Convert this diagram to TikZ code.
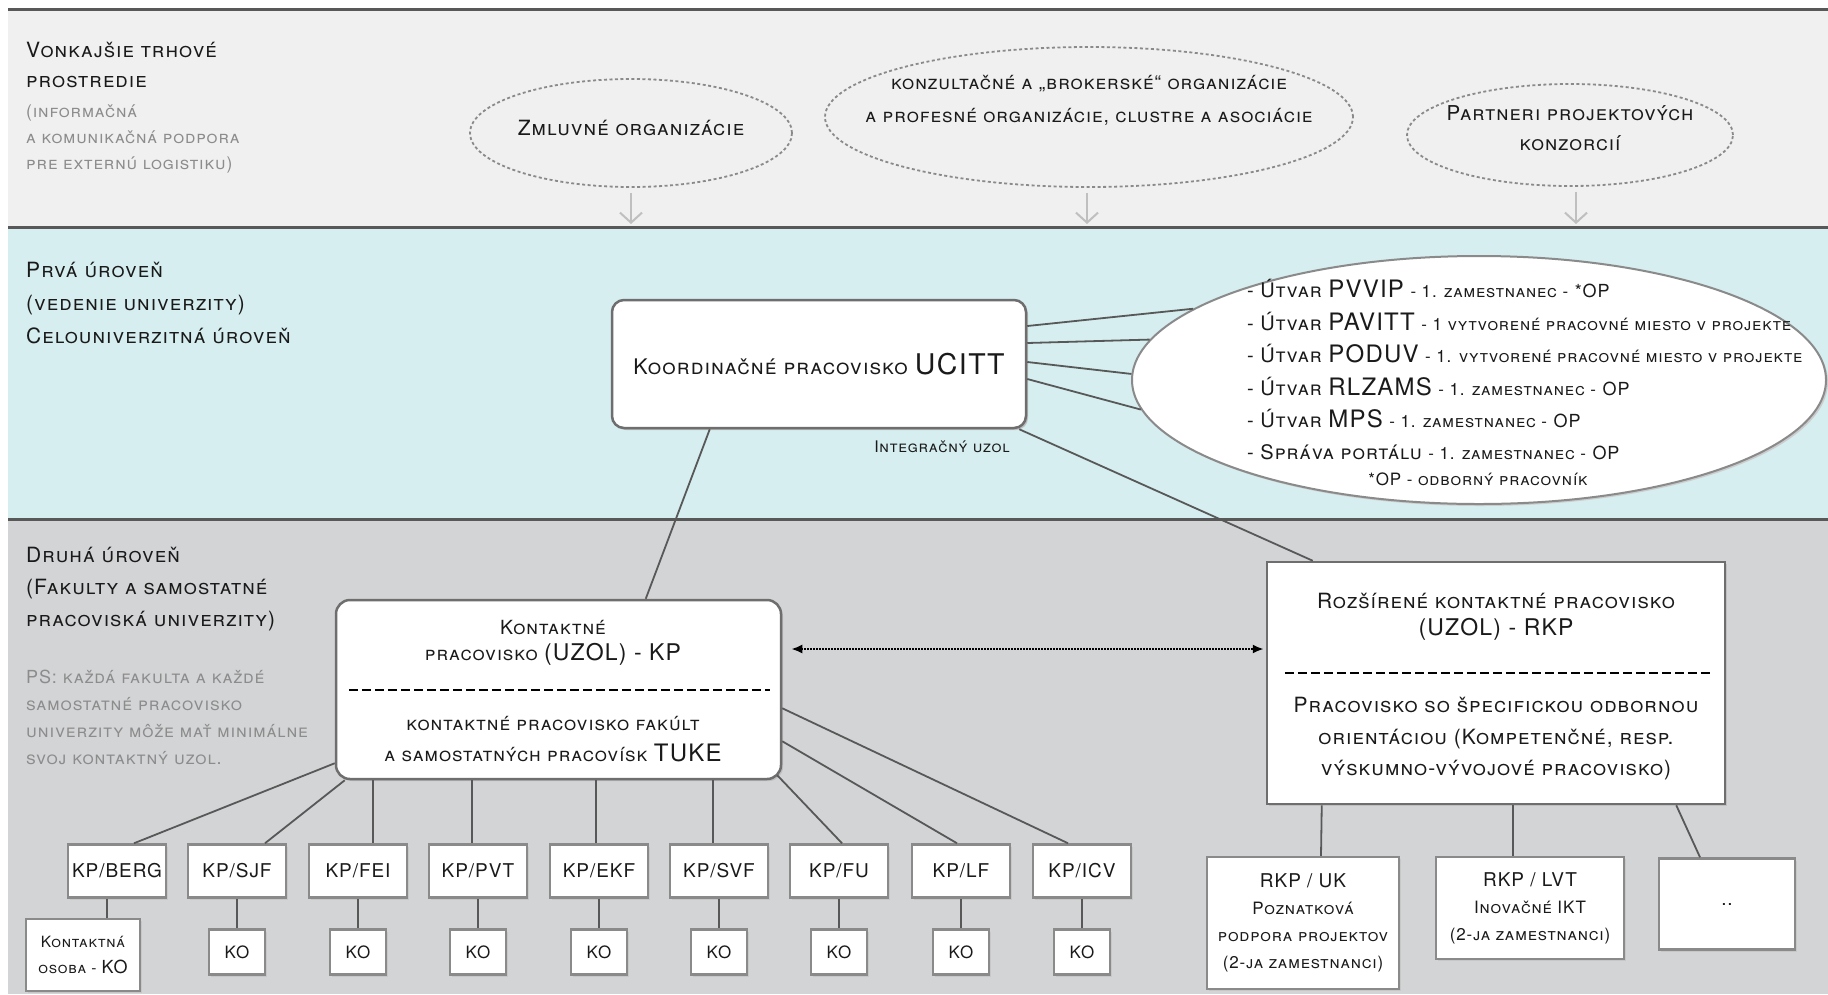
\documentclass[tikz,border=0pt]{standalone}
\usepackage{fontspec}
\setmainfont{TeX Gyre Heros}[LetterSpace=5]
\usetikzlibrary{arrows.meta,shapes.geometric,calc,shadows}
\definecolor{bandA}{HTML}{F0F0F0}
\definecolor{bandB}{HTML}{D6EEF0}
\definecolor{bandC}{HTML}{D3D4D6}
\definecolor{sepc}{HTML}{585858}
\definecolor{txt}{HTML}{1A1A1A}
\definecolor{gtxt}{HTML}{8C8C8C}
\definecolor{bord}{HTML}{6E6E6E}
\definecolor{lbord}{HTML}{8A8A8A}
\newcommand\fsz[2]{\fontsize{#1}{#2}\selectfont}
\newcommand\bigup[2]{{\fontsize{#1}{#1}\selectfont\upshape #2}}
\newcommand\sml[1]{{\fontsize{17}{17}\selectfont #1}}
\begin{document}
\begin{tikzpicture}[x=1pt,y=-1pt,
  lbl/.style={anchor=west,align=left,inner sep=0pt,text=txt,font=\fsz{21}{30}\scshape},
  glbl/.style={anchor=west,align=left,inner sep=0pt,text=gtxt,font=\fsz{17.5}{26}\scshape},
  dell/.style={ellipse,draw=lbord,line width=1.8pt,dash pattern=on 3pt off 2.5pt,inner sep=0pt},
  etxt/.style={align=center,inner sep=0pt,text=txt,font=\fsz{20.5}{30}\scshape},
  garrow/.style={draw=black!25,line width=2pt,-{Straight Barb[length=10pt,width=22pt,line width=2pt]}},
  bigbox/.style={draw=bord,line width=2.5pt,fill=white,inner sep=0pt,drop shadow={shadow xshift=2pt,shadow yshift=-2pt,fill=black!25,opacity=1}},
  sbox/.style={rectangle,draw=lbord,line width=2.5pt,fill=white,inner sep=0pt,align=center,font=\fsz{19}{19},text=txt,drop shadow={shadow xshift=2pt,shadow yshift=-2pt,fill=black!22,opacity=1}},
  conn/.style={draw=sepc,line width=1.8pt},
  btxt/.style={align=center,inner sep=0pt,text=txt,font=\fsz{19}{27}\scshape},
]
\useasboundingbox (0,0) rectangle (1828,994);
\fill[white] (0,0) rectangle (1828,994);
% bands
\fill[bandA] (8,9) rectangle (1828,227);
\fill[bandB] (8,227) rectangle (1828,519);
\fill[bandC] (8,519) rectangle (1828,994);
\draw[sepc,line width=3pt] (8,9) -- (1828,9);
\draw[sepc,line width=3pt] (8,227) -- (1828,227);
\draw[sepc,line width=3pt] (8,519) -- (1828,519);

% band labels
\node[lbl] (l1) at (26,64.5) {Vonkajšie trhové\\prostredie};
\node[glbl] (l1g) at (26,139) {(informačná\\a komunikačná podpora\\pre externú logistiku)};
\node[lbl,font=\fsz{21}{33}\scshape] (l2) at (26,303) {Prvá úroveň\\(vedenie univerzity)\\Celouniverzitná úroveň};
\node[lbl,font=\fsz{21}{32}\scshape] (l3) at (26,589) {Druhá úroveň\\(Fakulty a samostatné\\pracoviská univerzity)};
\node[glbl,font=\fsz{18}{27}\scshape] (ps) at (26,717.5) {PS: každá fakulta a každé\\samostatné pracovisko\\univerzity môže mať minimálne\\svoj kontaktný uzol.};

% external ellipses
\node[dell,minimum width=322pt,minimum height=108pt] (e1) at (631,133) {};
\node[etxt,font=\fsz{21}{30}\scshape] (e1t) at (631,128) {Zmluvné organizácie};
\node[dell,minimum width=528pt,minimum height=140pt] (e2) at (1089,117) {};
\node[etxt,font=\fsz{19.5}{33}\scshape] (e2t) at (1089,100.5) {konzultačné a „brokerské“ organizácie\\a profesné organizácie, clustre a asociácie};
\node[dell,minimum width=326pt,minimum height=102pt] (e3) at (1570,135) {};
\node[etxt] (e3t) at (1570,128) {Partneri projektových\\konzorcií};

\coordinate (a1) at (631,224);
\coordinate (a2) at (1087,224);
\coordinate (a3) at (1576,224);
\draw[garrow] ($(a1 |- e1.south)+(0,5)$) -- (a1);
\draw[garrow] ($(a2 |- e2.south)+(0,5)$) -- (a2);
\draw[garrow] ($(a3 |- e3.south)+(0,5)$) -- (a3);

% first level
\node[bigbox,rounded corners=12pt,minimum width=414pt,minimum height=128pt,font=\fsz{21.5}{21.5}\scshape,text=txt] (coord) at (819,364) {Koordinačné pracovisko \bigup{28.5}{UCITT}};
\node[text=txt,font=\fsz{16}{16}\scshape,inner sep=0pt] (integ) at (942,447) {Integračný uzol};

\node[ellipse,draw=lbord,line width=2pt,fill=white,minimum width=694pt,minimum height=248pt,inner sep=0pt,drop shadow={shadow xshift=2pt,shadow yshift=-2pt,fill=black!20,opacity=1}] (ell) at (1479,380) {};
\node[anchor=west,align=left,inner sep=0pt,text=txt,font=\fsz{20}{32.4}\scshape] (list) at (1247,370) {%
- Útvar \bigup{24}{PVVIP} \sml{- 1. zamestnanec -} \bigup{18}{*OP}\\
- Útvar \bigup{24}{PAVITT} \sml{- 1 vytvorené pracovné miesto v projekte}\\
- Útvar \bigup{24}{PODUV} \sml{- 1. vytvorené pracovné miesto v projekte}\\
- Útvar \bigup{24}{RLZAMS} \sml{- 1. zamestnanec -} \bigup{18}{OP}\\
- Útvar \bigup{24}{MPS} \sml{- 1. zamestnanec -} \bigup{18}{OP}\\
- Správa portálu \sml{- 1. zamestnanec -} \bigup{18}{OP}};
\node[text=txt,font=\fsz{17}{17}\scshape,inner sep=0pt] (opn) at (1478,479) {*OP - odborný pracovník};

\draw[conn] ($(coord.east)+(0,-38)$) -- (ell.166);
\draw[conn] ($(coord.east)+(0,-21)$) -- (ell.173);
\draw[conn] ($(coord.east)+(0,-2)$) -- (ell.179);
\draw[conn] ($(coord.east)+(0,15)$) -- (ell.185);

% second level
\node[bigbox,rounded corners=14pt,minimum width=445pt,minimum height=179pt] (kp) at (558.5,689.5) {};
\node[btxt,font=\fsz{19.5}{26}\scshape] (kpa) at (553,643) {Kontaktné\\pracovisko \bigup{23}{(UZOL) - KP}};
\draw[black,line width=1.5pt,dash pattern=on 9pt off 4pt] ($(kp.west)+(14,0.5)$) -- ($(kp.east)+(-12,0.5)$);
\node[btxt,font=\fsz{19.5}{31}\scshape] (kpb) at (553,739.5) {kontaktné pracovisko fakúlt\\a samostatných pracovísk \bigup{24}{TUKE}};

\node[bigbox,minimum width=458pt,minimum height=242pt] (rkp) at (1496,683) {};
\node[btxt,font=\fsz{21}{27}\scshape] (rkpa) at (1496,616.5) {Rozšírené kontaktné pracovisko\\\bigup{23}{(UZOL) - RKP}};
\draw[black,line width=1.5pt,dash pattern=on 9pt off 4pt] ($(rkp.west)+(19,-10)$) -- ($(rkp.east)+(-16,-10)$);
\node[btxt,font=\fsz{21}{31.5}\scshape] (rkpb) at (1496,739) {Pracovisko so špecifickou odbornou\\orientáciou (Kompetenčné, resp.\\výskumno-vývojové pracovisko)};

\draw[conn] ($(coord.south west)+(99,0)$) -- ($(kp.north west)+(311,0)$);
\draw[conn] ($(coord.south east)+(-8,0)$) -- ($(rkp.north west)+(47,0)$);
\draw[black,densely dotted,line width=2pt,{Latex[length=11pt,width=9pt]}-{Latex[length=11pt,width=9pt]}] ($(kp.east)+(9,-40.5)$) -- ($(rkp.west)+(-2,-34)$);

% faculty contact points
\node[sbox,minimum width=98pt,minimum height=53pt] (r1) at (117,871) {KP/BERG};
\node[sbox,minimum width=98pt,minimum height=53pt] (r2) at (237,871) {KP/SJF};
\node[sbox,minimum width=98pt,minimum height=53pt] (r3) at (358,871) {KP/FEI};
\node[sbox,minimum width=98pt,minimum height=53pt] (r4) at (478,871) {KP/PVT};
\node[sbox,minimum width=98pt,minimum height=53pt] (r5) at (599,871) {KP/EKF};
\node[sbox,minimum width=98pt,minimum height=53pt] (r6) at (719,871) {KP/SVF};
\node[sbox,minimum width=98pt,minimum height=53pt] (r7) at (839,871) {KP/FU};
\node[sbox,minimum width=98pt,minimum height=53pt] (r8) at (961,871) {KP/LF};
\node[sbox,minimum width=98pt,minimum height=53pt] (r9) at (1082,871) {KP/ICV};

\node[sbox,minimum width=114pt,minimum height=72pt,font=\fsz{15.5}{26}\scshape] (k1) at (83,955) {Kontaktná\\osoba - \bigup{18}{KO}};
\node[sbox,minimum width=56pt,minimum height=45pt,font=\fsz{17}{17}] (k2) at (237,952) {KO};
\node[sbox,minimum width=56pt,minimum height=45pt,font=\fsz{17}{17}] (k3) at (358,952) {KO};
\node[sbox,minimum width=56pt,minimum height=45pt,font=\fsz{17}{17}] (k4) at (478,952) {KO};
\node[sbox,minimum width=56pt,minimum height=45pt,font=\fsz{17}{17}] (k5) at (599,952) {KO};
\node[sbox,minimum width=56pt,minimum height=45pt,font=\fsz{17}{17}] (k6) at (719,952) {KO};
\node[sbox,minimum width=56pt,minimum height=45pt,font=\fsz{17}{17}] (k7) at (839,952) {KO};
\node[sbox,minimum width=56pt,minimum height=45pt,font=\fsz{17}{17}] (k8) at (961,952) {KO};
\node[sbox,minimum width=56pt,minimum height=45pt,font=\fsz{17}{17}] (k9) at (1082,952) {KO};

\draw[conn] ($(kp.south west)+(0,-17)$) -- ($(r1.north)+(17,0)$);
\draw[conn] ($(kp.south west)+(10,0)$) -- ($(r2.north)+(28,0)$);
\coordinate (t3) at ($(r3.north)+(15,0)$);
\coordinate (t4) at ($(r4.north)+(-6,0)$);
\coordinate (t5) at ($(r5.north)+(-3,0)$);
\coordinate (t6) at ($(r6.north)+(-6,0)$);
\draw[conn] (t3 |- kp.south) -- (t3);
\draw[conn] (t4 |- kp.south) -- (t4);
\draw[conn] (t5 |- kp.south) -- (t5);
\draw[conn] (t6 |- kp.south) -- (t6);
\draw[conn] ($(kp.south east)+(-5,-5)$) -- ($(r7.north)+(3,0)$);
\draw[conn] ($(kp.south east)+(0,-39)$) -- ($(r8.north)+(-4,0)$);
\draw[conn] ($(kp.south east)+(0,-72)$) -- ($(r9.north)+(-14,0)$);

\coordinate (b1) at ($(r1.south)+(-10,0)$);
\draw[conn] (b1) -- (b1 |- k1.north);
\draw[conn] (r2.south) -- (k2.north);
\draw[conn] (r3.south) -- (k3.north);
\draw[conn] (r4.south) -- (k4.north);
\draw[conn] (r5.south) -- (k5.north);
\draw[conn] (r6.south) -- (k6.north);
\draw[conn] (r7.south) -- (k7.north);
\draw[conn] (r8.south) -- (k8.north);
\draw[conn] (r9.south) -- (k9.north);

% extended contact points
\node[sbox,minimum width=192pt,minimum height=132pt,font=\fsz{17}{27}\scshape] (u1) at (1303,923) {\bigup{19}{RKP / UK}\\Poznatková\\podpora projektov\\(2-ja zamestnanci)};
\node[sbox,minimum width=188pt,minimum height=102pt,font=\fsz{17}{27}\scshape] (u2) at (1530,908) {\bigup{19}{RKP / LVT}\\Inovačné IKT\\(2-ja zamestnanci)};
\node[sbox,minimum width=136pt,minimum height=91pt] (u3) at (1727,904) {..};

\draw[conn] ($(rkp.south west)+(56,0)$) -- ($(u1.north)+(18,0)$);
\draw[conn] ($(rkp.south)+(17,0)$) -- ($(u2.north)+(-17,0)$);
\draw[conn] ($(rkp.south east)+(-50,0)$) -- ($(u3.north)+(-27,0)$);
\end{tikzpicture}
\end{document}
